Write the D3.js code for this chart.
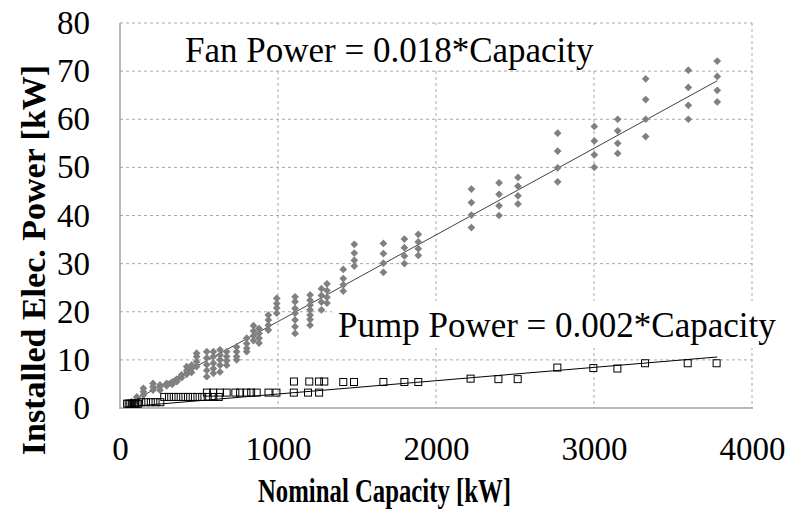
<!DOCTYPE html>
<html>
<head>
<meta charset="utf-8">
<script src="https://cdn.jsdelivr.net/npm/d3@7"></script>
<style>
  html, body { margin: 0; padding: 0; background: #fff; }
  svg { display: block; }
</style>
</head>
<body>
<svg id="chart" width="800" height="511"></svg>
<script>
// ---------- data ----------
const xTicks = [0, 1000, 2000, 3000, 4000];
const yTicks = [0, 10, 20, 30, 40, 50, 60, 70, 80];

// Fan power: capacity columns and the power values observed at each capacity
const fanCap = [74, 106, 148, 209, 253, 295, 330, 360, 390, 422, 453, 485, 549, 591, 633, 675, 738, 802, 845, 880, 939, 992, 1108, 1203, 1275, 1310, 1413, 1483, 1667, 1800, 1888, 2224, 2399, 2519, 2770, 3002, 3150, 3327, 3597, 3780];
const fanPower = [
  [1.3, 0.8], [2.3, 1.7], [4.1, 3.4, 2.7], [5.1, 4.4, 3.7], [4.8, 4.4, 3.7],
  [5.1, 4.6], [5.4, 4.9], [6.0, 5.5], [6.9, 6.3], [8.6, 7.8, 7.0],
  [8.9, 8.2, 7.4], [11.4, 10.7, 9.6, 8.6], [11.7, 10.4, 9.0, 7.8, 6.5], [11.7, 10.7, 9.3, 8.2, 7.2], [12.1, 11.0, 10.0, 8.9, 7.5],
  [11.7, 10.7, 9.8, 8.9], [12.7, 11.7, 10.7, 10.0], [14.5, 13.4, 12.4, 11.7], [17.1, 16.0, 15.0, 14.0], [16.5, 15.5, 14.5, 13.5],
  [19.3, 18.3, 17.2, 16.2], [22.8, 21.7, 20.8, 19.7], [23.1, 22.1, 20.7, 19.7, 18.3, 16.9, 15.5], [23.5, 22.4, 21.4, 20.4, 19.3, 18.4, 17.2], [24.8, 23.4, 22.0, 20.4],
  [25.8, 24.4, 23.0, 21.8], [28.8, 26.9, 25.6, 24.3], [34.0, 32.2, 30.7, 29.5], [34.2, 32.1, 30.1, 28.2], [35.1, 33.3, 31.6, 30.0],
  [36.1, 34.5, 33.1, 31.7], [45.5, 42.7, 40.1, 37.5], [46.8, 44.4, 42.0, 40.0], [47.9, 46.1, 44.1, 42.4], [57.1, 53.4, 49.9, 47.0],
  [58.5, 55.5, 52.6, 50.0], [60.0, 57.6, 55.0, 52.9], [68.4, 64.1, 60.0, 56.4], [70.2, 66.6, 62.9, 60.0], [72.1, 68.9, 66.0, 63.6]
];

// Pump power: capacity and power
const pumpCap = [45, 55, 65, 75, 85, 95, 105, 115,
  135, 165, 195, 225, 255,
  280, 310, 340, 370, 400, 430, 460, 490, 520, 555, 590, 625,
  550, 590, 633, 675, 730, 760, 800, 830, 865, 940, 990, 1100, 1190, 1260,
  1101, 1198, 1259, 1293, 1413, 1481, 1667, 1800, 1888,
  2219, 2395, 2517, 2768, 2996, 3148, 3323, 3593, 3776];
const pumpPower = [0.9, 0.9, 0.9, 0.9, 0.9, 0.9, 0.9, 0.9,
  1.2, 1.2, 1.2, 1.2, 1.2,
  2.3, 2.3, 2.3, 2.3, 2.3, 2.3, 2.3, 2.3, 2.3, 2.3, 2.3, 2.3,
  3.2, 3.2, 3.2, 3.2, 3.2, 3.2, 3.2, 3.2, 3.2, 3.2, 3.2, 3.2, 3.2, 3.2,
  5.5, 5.5, 5.5, 5.5, 5.4, 5.4, 5.4, 5.4, 5.4,
  6.1, 6.0, 6.0, 8.4, 8.3, 8.2, 9.3, 9.3, 9.3];

// Trend lines
const fanTrendCap = [63, 3780];
const fanTrendPower = [1.1, 68.0];
const pumpTrendCap = [42, 3780];
const pumpTrendPower = [0.25, 10.6];

const fanLabel = "Fan Power = 0.018*Capacity";
const pumpLabel = "Pump Power = 0.002*Capacity";
const xTitle = "Nominal Capacity [kW]";
const yTitle = "Installed Elec. Power [kW]";

// ---------- drawing ----------
const svg = d3.select("#chart");
const serif = "'Liberation Serif', 'Times New Roman', serif";
const L = 120, R = 752, T = 23, B = 408;

const x = d3.scaleLinear().domain([0, 4000]).range([L, R]);
const y = d3.scaleLinear().domain([0, 80]).range([B, T]);

svg.append("rect").attr("width", 800).attr("height", 511).attr("fill", "#fff");

// gridlines
const grid = svg.append("g");
grid.selectAll("line.h").data(yTicks.filter(d => d > 0)).join("line")
  .attr("x1", L).attr("x2", R).attr("y1", d => y(d)).attr("y2", d => y(d))
  .attr("stroke", "#a8a8a8").attr("stroke-width", 1).attr("stroke-dasharray", "3,3");
grid.selectAll("line.v").data(xTicks.filter(d => d > 0)).join("line")
  .attr("y1", T).attr("y2", B).attr("x1", d => x(d)).attr("x2", d => x(d))
  .attr("stroke", "#a8a8a8").attr("stroke-width", 1).attr("stroke-dasharray", "3,3");

// axes lines
svg.append("line").attr("x1", L).attr("x2", L).attr("y1", T).attr("y2", B + 1)
  .attr("stroke", "#a0a0a0").attr("stroke-width", 1.5);
svg.append("line").attr("x1", L).attr("x2", R + 1).attr("y1", B).attr("y2", B)
  .attr("stroke", "#a0a0a0").attr("stroke-width", 1.5);

// tick labels via axes
const xAxis = svg.append("g").attr("transform", `translate(0,${B})`)
  .call(d3.axisBottom(x).tickValues(xTicks).tickSize(0).tickFormat(d3.format("d")));
xAxis.select(".domain").remove();
xAxis.selectAll("text").attr("y", 52).attr("dy", 0)
  .attr("font-family", serif).attr("font-size", 33).attr("fill", "#000");

const yAxis = svg.append("g").attr("transform", `translate(${L},0)`)
  .call(d3.axisLeft(y).tickValues(yTicks).tickSize(0).tickFormat(d3.format("d")));
yAxis.select(".domain").remove();
yAxis.selectAll("text").attr("x", -30).attr("dy", "0.32em")
  .attr("font-family", serif).attr("font-size", 33).attr("fill", "#000");

// text boxes (white background like the original)
function label(txt, tx, ty, box) {
  svg.append("rect").attr("x", box[0]).attr("y", box[1]).attr("width", box[2]).attr("height", box[3]).attr("fill", "#fff");
  svg.append("text").attr("x", tx).attr("y", ty).text(txt)
    .attr("font-family", serif).attr("font-size", 35).attr("fill", "#000");
}
label(fanLabel, 185, 62, [179, 25, 419, 45]);
label(pumpLabel, 338, 337, [332, 301, 448, 47]);

// trend lines
const line = d3.line().x(d => x(d[0])).y(d => y(d[1]));
svg.append("path").attr("d", line(fanTrendCap.map((c, i) => [c, fanTrendPower[i]])))
  .attr("fill", "none").attr("stroke", "#404040").attr("stroke-width", 1);

// fan points
const fanPts = [];
fanCap.forEach((c, i) => fanPower[i].forEach(v => fanPts.push([c, v])));
const diamond = d3.symbol().type(d3.symbolSquare).size(30);
svg.append("g").selectAll("path").data(fanPts).join("path")
  .attr("d", diamond)
  .attr("transform", d => `translate(${x(d[0])},${y(d[1])}) rotate(45)`)
  .attr("fill", "#808080");

// pump points
const pumpPts = pumpCap.map((c, i) => [c, pumpPower[i]]);
svg.append("g").selectAll("rect").data(pumpPts).join("rect")
  .attr("x", d => x(d[0]) - 3.5).attr("y", d => y(d[1]) - 3.5)
  .attr("width", 7).attr("height", 7)
  .attr("fill", "none").attr("stroke", "#000").attr("stroke-width", 1);

svg.append("path").attr("d", line(pumpTrendCap.map((c, i) => [c, pumpTrendPower[i]])))
  .attr("fill", "none").attr("stroke", "#000").attr("stroke-width", 1);

// axis titles
svg.append("text").attr("transform", "translate(45,260) rotate(-90)")
  .attr("text-anchor", "middle").text(yTitle)
  .attr("font-family", serif).attr("font-weight", "bold").attr("font-size", 34).attr("fill", "#000");
svg.append("text").attr("x", 258).attr("y", 502).text(xTitle)
  .attr("textLength", 253).attr("lengthAdjust", "spacingAndGlyphs")
  .attr("font-family", serif).attr("font-weight", "bold").attr("font-size", 33).attr("fill", "#000");
</script>
</body>
</html>
